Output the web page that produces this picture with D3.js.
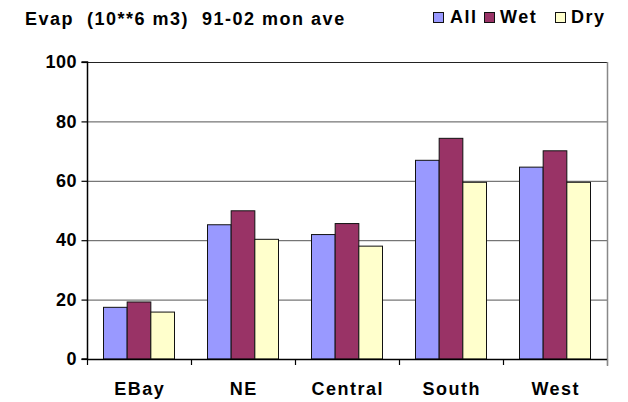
<!DOCTYPE html>
<html>
<head>
<meta charset="utf-8">
<script src="https://cdn.jsdelivr.net/npm/d3@7"></script>
<style>
  html, body { margin: 0; padding: 0; background: #fff; }
  svg { display: block; font-family: "Liberation Sans", Arial, sans-serif; font-weight: bold; }
</style>
</head>
<body>
<svg id="chart" width="628" height="402"></svg>
<script>
// Monthly average evaporation by region, 1991-2002 (10^6 m3)
const regions = ["EBay", "NE", "Central", "South", "West"];
const seriesNames = ["All", "Wet", "Dry"];
const allValues = [17.4, 45.2, 41.9, 66.9, 64.6];
const wetValues = [19.2, 49.9, 45.6, 74.3, 70.1];
const dryValues = [15.8, 40.3, 38.0, 59.5, 59.5];
const yTicks = [0, 20, 40, 60, 80, 100];
const colors = ["#9999FF", "#993366", "#FFFFCC"];

const series = [allValues, wetValues, dryValues];
const FONT = "Liberation Sans, Arial, sans-serif";

const svg = d3.select("#chart");
const plot = { left: 87, right: 607, top: 62, bottom: 359 };

const x = d3.scaleBand().domain(regions).range([plot.left, plot.right]).paddingInner(0).paddingOuter(0);
const groupW = 71;
const xs = d3.scaleBand().domain(seriesNames).range([0, groupW]).padding(0);
const y = d3.scaleLinear().domain([0, 100]).range([plot.bottom, plot.top]);

// gridlines
svg.append("g")
  .selectAll("line")
  .data(yTicks.filter(d => d > 0))
  .join("line")
  .attr("x1", plot.left).attr("x2", plot.right)
  .attr("y1", d => y(d) + 0.5).attr("y2", d => y(d) + 0.5)
  .attr("stroke", d => d === 100 ? "#222" : "#555")
  .attr("stroke-width", 1);

// right border
svg.append("line")
  .attr("x1", plot.right + 0.5).attr("x2", plot.right + 0.5)
  .attr("y1", plot.top).attr("y2", plot.bottom + 7)
  .attr("stroke", "#888").attr("stroke-width", 1.5);

// bars
const groups = svg.append("g")
  .selectAll("g")
  .data(regions)
  .join("g")
  .attr("transform", d => `translate(${x(d) + (x.bandwidth() - groupW) / 2},0)`);

groups.selectAll("rect")
  .data((d, i) => seriesNames.map((s, j) => ({ s, v: series[j][i], c: colors[j] })))
  .join("rect")
  .attr("x", d => xs(d.s))
  .attr("width", xs.bandwidth())
  .attr("y", d => y(d.v))
  .attr("height", d => y(0) - y(d.v))
  .attr("fill", d => d.c)
  .attr("stroke", "#111")
  .attr("stroke-width", 1);

// y axis
const yAxis = d3.axisLeft(y).tickValues(yTicks).tickSize(6).tickPadding(5);
const gy = svg.append("g")
  .attr("transform", `translate(${plot.left + 0.5},0)`)
  .call(yAxis);
gy.select(".domain").attr("stroke", "#000").attr("stroke-width", 1.5).attr("d", `M-6,${y(100)}H0V${y(0)}H-6`);
gy.selectAll(".tick line").attr("stroke", "#000").attr("stroke-width", 1.2);
gy.selectAll(".tick text")
  .attr("font-size", 18).attr("font-weight", "bold").attr("fill", "#000")
  .attr("font-family", FONT)
  .attr("dx", 0.5)
  .style("letter-spacing", "0.5px");

// x axis
const xAxis = d3.axisBottom(x).tickSize(0).tickPadding(0);
const gx = svg.append("g")
  .attr("transform", `translate(0,${plot.bottom + 0.5})`)
  .call(xAxis);
gx.select(".domain").attr("stroke", "#000").attr("stroke-width", 1.5).attr("d", `M${plot.left},0H${plot.right}`);
gx.selectAll(".tick text")
  .attr("y", 35.5).attr("dy", null)
  .attr("dx", 0.75)
  .attr("font-size", 18).attr("font-weight", "bold").attr("fill", "#000")
  .attr("font-family", FONT)
  .style("letter-spacing", "1.5px");

// category separator ticks
svg.append("g")
  .selectAll("line")
  .data(regions.concat(["__end"]))
  .join("line")
  .attr("x1", (d, i) => (i < regions.length ? x(d) : plot.right) + 0.5)
  .attr("x2", (d, i) => (i < regions.length ? x(d) : plot.right) + 0.5)
  .attr("y1", plot.bottom).attr("y2", plot.bottom + 6)
  .attr("stroke", (d, i) => i < regions.length ? "#000" : "#888")
  .attr("stroke-width", 1.2);

// title
svg.append("text")
  .attr("x", 25).attr("y", 25)
  .attr("font-size", 18)
  .attr("xml:space", "preserve")
  .style("white-space", "pre")
  .style("letter-spacing", "1.5px")
  .text("Evap  (10**6 m3)  91-02 mon ave");

// legend
const legendItems = [
  { name: "All", bx: 433, tx: 450 },
  { name: "Wet", bx: 484, tx: 500 },
  { name: "Dry", bx: 555, tx: 571 }
];
const lg = svg.append("g");
legendItems.forEach((d, i) => {
  lg.append("rect")
    .attr("x", d.bx + 0.5).attr("y", 12.5)
    .attr("width", 10).attr("height", 10)
    .attr("fill", colors[i]).attr("stroke", "#111").attr("stroke-width", 1);
  lg.append("text")
    .attr("x", d.tx).attr("y", 23)
    .attr("font-size", 18)
    .style("letter-spacing", "1.5px")
    .text(d.name);
});
</script>
</body>
</html>
